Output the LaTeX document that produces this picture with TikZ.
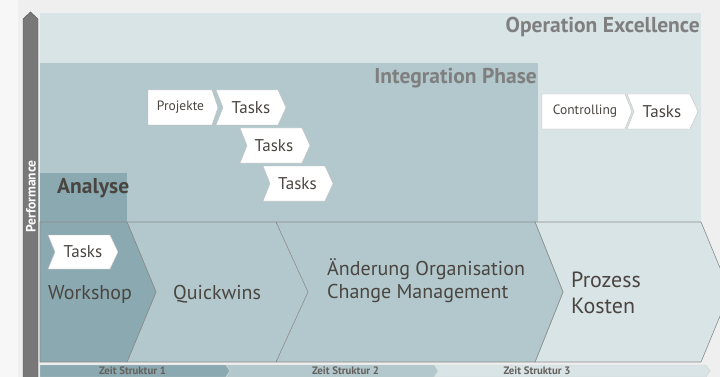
\documentclass[tikz,border=0pt]{standalone}
\usepackage{fontspec}
\setmainfont{PT Sans}

\definecolor{tealdark}{HTML}{8AA9B0}
\definecolor{tealmid}{HTML}{B2C8CC}
\definecolor{teallight}{HTML}{D9E4E6}
\definecolor{pagegray}{HTML}{EFEFEF}
\definecolor{axisgray}{HTML}{787878}
\definecolor{textdark}{HTML}{4A4540}
\definecolor{headgray}{HTML}{7F7F7F}
\definecolor{edgegray}{HTML}{8C8C8C}

% chevron: style, left x, right flat x, top y, bottom y, notch depth, tip depth
\newcommand{\chev}[7]{%
	\draw[#1] (#2,#4) -- (#3,#4) -- ({#3+#7},{(#4+#5)/2}) -- (#3,#5) -- (#2,#5)
	-- ({#2+#6},{(#4+#5)/2}) -- cycle;}

\begin{document}
\begin{tikzpicture}[x = 1pt, y = -1pt,
	phase/.style = {draw = edgegray, line width = 0.6pt},
	taskbox/.style = {fill = white, draw = black!25, line width = 0.4pt},
	zeitbar/.style = {draw = white!60!edgegray, line width = 0.3pt},
	head/.style = {font = \bfseries\fontsize{21.5}{24}\selectfont, text = headgray, inner sep = 0pt},
	label/.style = {font = \fontsize{20}{23}\selectfont, text = textdark, inner sep = 0pt},
	tasktext/.style = {font = \fontsize{17}{20}\selectfont, text = textdark, inner sep = 0pt},
	smalltext/.style = {font = \fontsize{13.5}{16}\selectfont, text = textdark, inner sep = 0pt},
	zeittext/.style = {font = \bfseries\fontsize{10.8}{12}\selectfont, text = textdark!85, inner sep = 0pt}]

	% background and phase areas
	\fill[pagegray] (0,0) rectangle (720,377);
	\useasboundingbox (0,0) rectangle (720,377);
	\fill[white!50!pagegray] (0,0) rectangle (18,377);
	\fill[teallight] (40,13) rectangle (701,222);
	\fill[tealmid] (40,63) rectangle (538,222);
	\fill[tealdark] (40,173) rectangle (127,222);

	% phase chevrons
	\chev{phase, fill = teallight}{535}{701}{222}{362}{28}{29}
	\chev{phase, fill = tealmid}{276}{535}{222}{362}{28}{28}
	\chev{phase, fill = tealmid}{127}{276}{222}{362}{29}{32}
	\chev{phase, fill = tealdark}{40}{127}{222}{362}{0}{29}

	% task chevrons
	\chev{taskbox}{48}{110}{235}{269}{7}{8}
	\chev{taskbox}{148}{212}{90}{125}{0}{6}
	\chev{taskbox}{216}{278}{90}{125}{7}{8}
	\chev{taskbox}{240}{302}{128}{163}{7}{8}
	\chev{taskbox}{263}{325}{166}{201}{7}{8}
	\chev{taskbox}{542}{625}{94}{129}{0}{7}
	\chev{taskbox}{627}{690}{94}{129}{7}{8}

	% time bars
	\chev{zeitbar, fill = tealdark}{40}{226}{365}{377}{0}{4}
	\chev{zeitbar, fill = tealmid}{226}{434}{365}{377}{4}{4}
	\chev{zeitbar, fill = teallight}{434}{706}{365}{377}{4}{4}

	% performance axis
	\draw[fill = axisgray, draw = axisgray!70!black, line width = 0.4pt]
	(23,378) -- (23,19) -- (30.5,12) -- (38,19) -- (38,378) -- cycle;
	\node[rotate = 90, text = white, font = \bfseries\fontsize{13.5}{15}\selectfont, inner sep = 0pt]
	(perf) at (31,196.5) {Performance};

	% labels
	\node[head, anchor = base east] (opex) at (700,32.5) {Operation Excellence};
	\node[head, anchor = base east] (integ) at (537,83.3) {Integration Phase};
	\node[head, anchor = base west, text = textdark] (analyse) at (57,193.3) {Analyse};

	\node[label, anchor = base west] (workshop) at (48,299) {Workshop};
	\node[label, anchor = base west] (quickwins) at (173,299) {Quickwins};
	\node[label, anchor = base west, align = left] (change) at (327,298) {Änderung Organisation\\Change Management};
	\node[label, anchor = base west, align = left, font = \fontsize{22}{26}\selectfont] (prozess) at (571,313) {Prozess\\Kosten};

	\node[tasktext] (tasks0) at (83,252) {Tasks};
	\node[smalltext] (projekte) at (180.5,107.5) {Projekte};
	\node[tasktext] (tasks1) at (251,107.5) {Tasks};
	\node[tasktext] (tasks2) at (274,145.5) {Tasks};
	\node[tasktext] (tasks3) at (297.5,183.5) {Tasks};
	\node[smalltext] (controlling) at (585,111.5) {Controlling};
	\node[tasktext] (tasks4) at (662,111.5) {Tasks};

	\node[zeittext] (zeit1) at (132.5,371) {Zeit Struktur 1};
	\node[zeittext] (zeit2) at (345.5,371) {Zeit Struktur 2};
	\node[zeittext] (zeit3) at (537,371) {Zeit Struktur 3};
\end{tikzpicture}
\end{document}
